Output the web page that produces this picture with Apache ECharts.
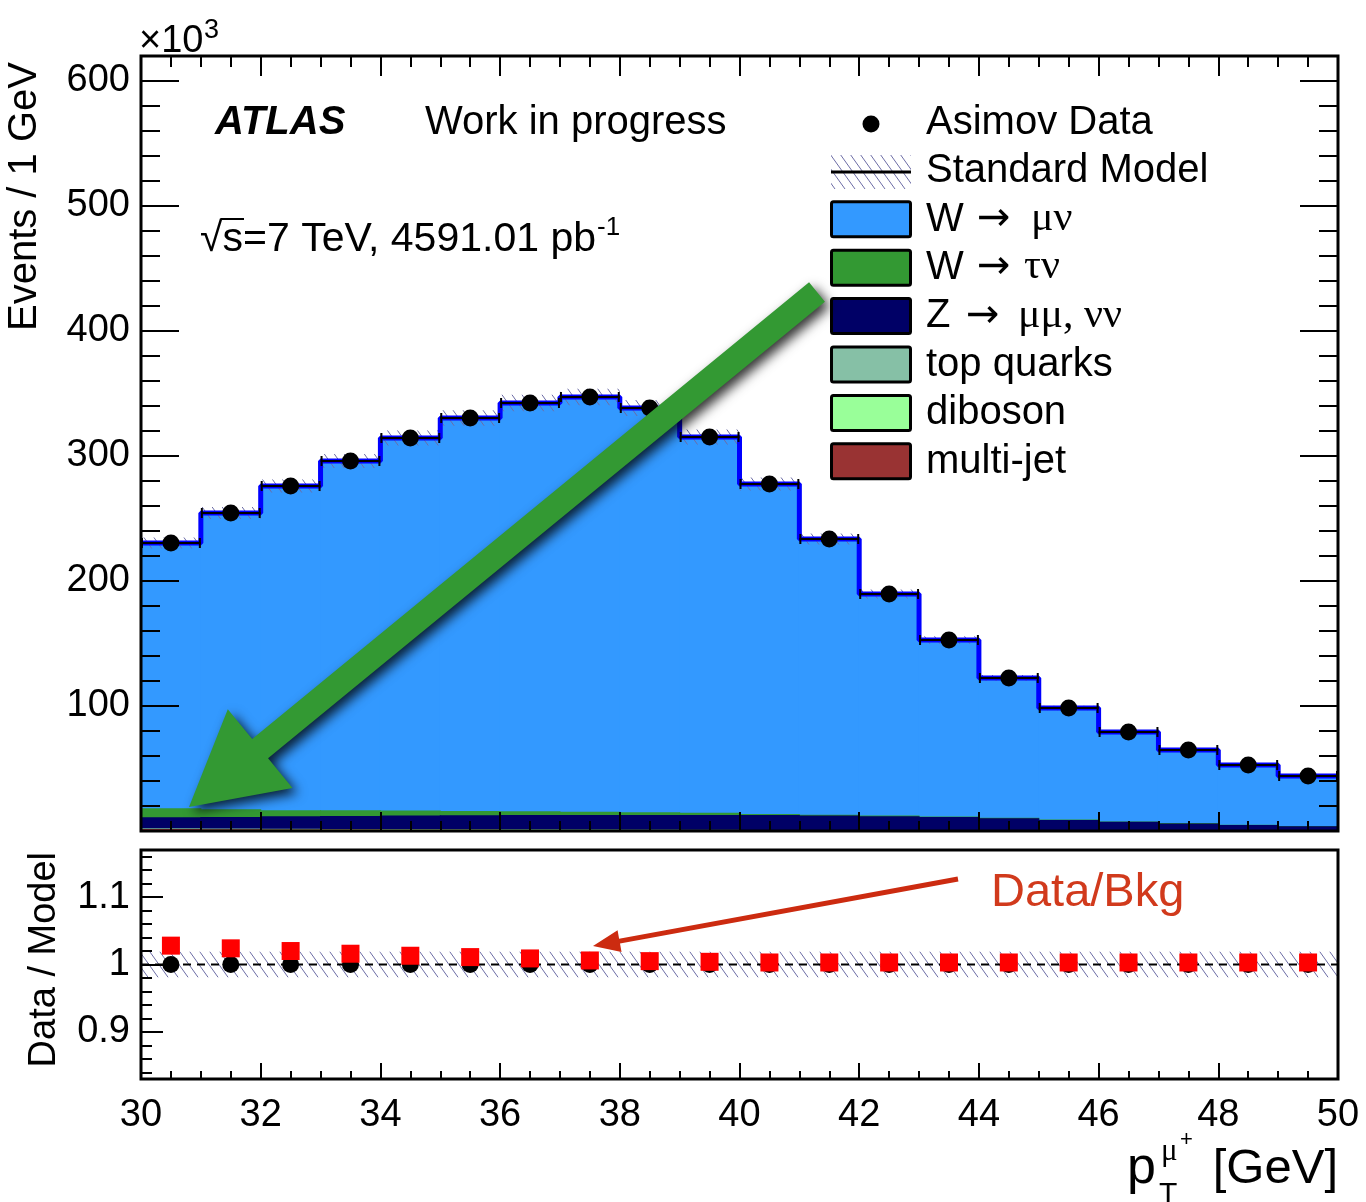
<!DOCTYPE html>
<html>
<head>
<meta charset="utf-8">
<title>pT mu+ stack</title>
<script src="https://cdn.jsdelivr.net/npm/echarts@6.0.0/dist/echarts.min.js"></script>
<style>
  html, body { margin: 0; padding: 0; background: #ffffff; }
  #chart { width: 1366px; height: 1202px; }
</style>
</head>
<body>
<div id="chart"></div>
<script>
// 1 GeV bins, event counts in units of 10^3
const binEdges = [30, 31, 32, 33, 34, 35, 36, 37, 38, 39, 40, 41, 42, 43, 44, 45, 46, 47, 48, 49, 50]
const asimovData = [230.4, 254.4, 276.0, 296.0, 314.4, 330.4, 342.4, 347.2, 338.4, 315.2, 277.6, 233.6, 189.6, 152.8, 122.4, 98.4, 79.2, 64.8, 52.8, 44.0]
const wMuNu = [212.2, 236.9, 259.4, 279.3, 298.0, 314.3, 326.6, 331.7, 323.3, 300.5, 264.0, 220.5, 177.1, 141.1, 111.8, 89.2, 71.5, 58.4, 47.7, 40.0]
const wTauNu = [7.2, 6.2, 4.8, 4.6, 4.0, 3.4, 3.0, 2.6, 2.2, 1.8, 0.8, 0.7, 0.6, 0.5, 0.4, 0.4, 0.3, 0.3, 0.2, 0.2]
const zMuMuNuNu = [8.9, 9.3, 10.0, 10.4, 10.8, 11.2, 11.4, 11.6, 11.7, 11.8, 11.9, 11.5, 11.2, 10.5, 9.6, 8.2, 6.8, 5.6, 4.5, 3.4]
const topQuarks = [0.3, 0.3, 0.3, 0.3, 0.3, 0.3, 0.3, 0.3, 0.3, 0.3, 0.2, 0.2, 0.2, 0.2, 0.2, 0.2, 0.2, 0.2, 0.1, 0.1]
const diboson = [0.2, 0.2, 0.2, 0.2, 0.2, 0.2, 0.2, 0.2, 0.2, 0.2, 0.2, 0.2, 0.1, 0.1, 0.1, 0.1, 0.1, 0.1, 0.1, 0.1]
const multiJet = [1.6, 1.5, 1.3, 1.2, 1.1, 1.0, 0.9, 0.8, 0.7, 0.6, 0.5, 0.5, 0.4, 0.4, 0.3, 0.3, 0.3, 0.2, 0.2, 0.2]
const smRelUnc = [0.019, 0.019, 0.019, 0.019, 0.019, 0.019, 0.019, 0.019, 0.019, 0.019, 0.019, 0.019, 0.019, 0.019, 0.019, 0.019, 0.019, 0.019, 0.019, 0.019]
const dataOverBkg = [1.028, 1.024, 1.020, 1.016, 1.013, 1.011, 1.009, 1.006, 1.005, 1.004, 1.003, 1.003, 1.003, 1.003, 1.003, 1.003, 1.003, 1.003, 1.003, 1.003]

const xTickLabels = [30, 32, 34, 36, 38, 40, 42, 44, 46, 48, 50]
const yTickLabels = [100, 200, 300, 400, 500, 600]
const ratioTickLabels = [0.9, 1, 1.1]

const FONT = "'Liberation Sans', Arial, Helvetica, sans-serif"
const SERIF = "'Liberation Serif', 'Times New Roman', serif"
const ARROW_FONT = "'DejaVu Sans', sans-serif"

// minor tick positions
const xMinor = []
for (let k = 0; k <= 40; k++) { const v = 30 + k * 0.5; if (v % 2 !== 0) xMinor.push(v) }
const yMinor = []
for (let v = 0; v <= 620; v += 20) { if (v % 100 !== 0) yMinor.push(v) }
const ratioMinor = []
for (let k = 42; k <= 58; k++) { if (k % 5 !== 0) ratioMinor.push(+(k * 0.02).toFixed(2)) }

// stacked layers, bottom first
const stackOrder = [
  { values: multiJet, color: '#993333' },
  { values: diboson, color: '#99ff99' },
  { values: topQuarks, color: '#86c0a6' },
  { values: zMuMuNuNu, color: '#000066' },
  { values: wTauNu, color: '#339933' },
  { values: wMuNu, color: '#3399ff' }
]
const cumulative = []
let running = asimovData.map(() => 0)
stackOrder.forEach(layer => {
  running = running.map((v, i) => v + layer.values[i])
  cumulative.push(running)
})
const smTotal = running
const binCenters = asimovData.map((d, i) => (binEdges[i] + binEdges[i + 1]) / 2)

function makeHatch() {
  const c = document.createElement('canvas')
  c.width = 10
  c.height = 14
  const g = c.getContext('2d')
  g.strokeStyle = '#6c6ca6'
  g.lineWidth = 1
  ;[-10, 0, 10].forEach(dx => {
    g.beginPath()
    g.moveTo(dx, 0)
    g.lineTo(dx + 10, 14)
    g.stroke()
  })
  return c
}
const hatchImg = makeHatch()
const hatchFill = () => ({ image: hatchImg, repeat: 'repeat' })

function renderBinFill(params, api) {
  const p0 = api.coord([api.value(0), api.value(2)])
  const p1 = api.coord([api.value(1), 0])
  return {
    type: 'rect',
    shape: { x: p0[0] - 0.5, y: p0[1], width: p1[0] - p0[0] + 1, height: p1[1] - p0[1] },
    style: { fill: api.visual('color') }
  }
}

function renderBand(params, api) {
  const p0 = api.coord([api.value(0), api.value(3)])
  const p1 = api.coord([api.value(1), api.value(2)])
  return {
    type: 'rect',
    shape: { x: p0[0], y: p0[1], width: p1[0] - p0[0], height: p1[1] - p0[1] },
    style: { fill: hatchFill() }
  }
}

function renderXErr(params, api) {
  const a = api.coord([api.value(0), api.value(2)])
  const b = api.coord([api.value(1), api.value(2)])
  const st = { stroke: '#000', lineWidth: 2 }
  return {
    type: 'group',
    children: [
      { type: 'line', shape: { x1: a[0], y1: a[1], x2: b[0], y2: b[1] }, style: st },
      { type: 'line', shape: { x1: a[0] + 1, y1: a[1] - 5, x2: a[0] + 1, y2: a[1] + 5 }, style: st },
      { type: 'line', shape: { x1: b[0] - 1, y1: b[1] - 5, x2: b[0] - 1, y2: b[1] + 5 }, style: st }
    ]
  }
}

function makeAxis(gridIndex, position, min, max, tickValues, tickLen, labelValues, labelMargin, labelPad) {
  return {
    type: 'value', gridIndex, position, min, max, z: 10,
    axisLine: { show: false, onZero: false },
    splitLine: { show: false },
    axisTick: { show: true, inside: true, length: tickLen, customValues: tickValues, lineStyle: { color: '#000', width: 2 } },
    axisLabel: labelValues
      ? { show: true, customValues: labelValues, color: '#000', fontFamily: FONT, fontSize: 38, margin: labelMargin, padding: labelPad || 0 }
      : { show: false }
  }
}

const xAxes = [
  makeAxis(0, 'bottom', 30, 50, xTickLabels, 19),
  makeAxis(0, 'bottom', 30, 50, xMinor, 10),
  makeAxis(0, 'top', 30, 50, xTickLabels, 20),
  makeAxis(0, 'top', 30, 50, xMinor, 11),
  makeAxis(1, 'bottom', 30, 50, xTickLabels, 16, xTickLabels, 18),
  makeAxis(1, 'bottom', 30, 50, xMinor, 8)
]
const yAxes = [
  makeAxis(0, 'left', 0, 620, [0].concat(yTickLabels), 38, yTickLabels, 11, [4, 0, 0, 0]),
  makeAxis(0, 'left', 0, 620, yMinor, 19),
  makeAxis(0, 'right', 0, 620, [0].concat(yTickLabels), 38),
  makeAxis(0, 'right', 0, 620, yMinor, 19),
  makeAxis(1, 'left', 0.83, 1.17, ratioTickLabels, 22, ratioTickLabels, 11, [4, 0, 0, 0]),
  makeAxis(1, 'left', 0.83, 1.17, ratioMinor, 11)
]

const layerSeries = stackOrder.map((layer, k) => ({
  type: 'custom',
  xAxisIndex: 0, yAxisIndex: 0,
  renderItem: renderBinFill,
  itemStyle: { color: layer.color },
  data: cumulative[k].map((top, i) => [binEdges[i], binEdges[i + 1], top]),
  z: 2
})).reverse()

const series = layerSeries.concat([
  {
    type: 'custom', xAxisIndex: 0, yAxisIndex: 0, renderItem: renderBand, z: 3,
    data: smTotal.map((t, i) => [binEdges[i], binEdges[i + 1], t * (1 - smRelUnc[i]), t * (1 + smRelUnc[i])])
  },
  {
    type: 'line', xAxisIndex: 0, yAxisIndex: 0, step: 'end', symbol: 'none', z: 4,
    lineStyle: { color: '#0000ff', width: 5 },
    data: binEdges.map((e, i) => [e, smTotal[Math.min(i, smTotal.length - 1)]])
  },
  {
    type: 'custom', xAxisIndex: 0, yAxisIndex: 0, renderItem: renderXErr, z: 5,
    data: asimovData.map((d, i) => [binEdges[i], binEdges[i + 1], d])
  },
  {
    type: 'scatter', xAxisIndex: 0, yAxisIndex: 0, symbol: 'circle', symbolSize: 17, z: 6,
    itemStyle: { color: '#000', opacity: 1 },
    data: asimovData.map((d, i) => [binCenters[i], d])
  },
  // ratio panel
  {
    type: 'custom', xAxisIndex: 4, yAxisIndex: 4, renderItem: renderBand, z: 3,
    data: smRelUnc.map((u, i) => [binEdges[i], binEdges[i + 1], 1 - u, 1 + u])
  },
  {
    type: 'line', xAxisIndex: 4, yAxisIndex: 4, symbol: 'none', z: 4,
    lineStyle: { color: '#000', width: 2, type: [8, 6] },
    data: [[30, 1], [50, 1]]
  },
  {
    type: 'scatter', xAxisIndex: 4, yAxisIndex: 4, symbol: 'circle', symbolSize: 17, z: 5,
    itemStyle: { color: '#000', opacity: 1 },
    data: asimovData.map((d, i) => [binCenters[i], d / smTotal[i]])
  },
  {
    type: 'scatter', xAxisIndex: 4, yAxisIndex: 4, symbol: 'rect', symbolSize: 18, z: 6,
    itemStyle: { color: '#ff0000', opacity: 1 },
    data: dataOverBkg.map((r, i) => [binCenters[i], r])
  }
])

// ---- annotations ----
const measureCtx = document.createElement('canvas').getContext('2d')
function textWidth(str, font) { measureCtx.font = font; return measureCtx.measureText(str).width }

const BASE_SHIFT = 0.28
function txt(str, x, baseline, size, opts) {
  opts = opts || {}
  const family = opts.family || FONT
  const font = (opts.style || '') + ' ' + (opts.weight || 'normal') + ' ' + size + 'px ' + family
  const align = opts.align || 'left'
  return {
    type: 'text', z: 100,
    x: x, y: baseline - BASE_SHIFT * size,
    rotation: opts.rotation || 0,
    style: {
      text: str, font: font, fill: opts.color || '#000',
      align: align, textAlign: align, verticalAlign: 'middle', textVerticalAlign: 'middle'
    }
  }
}

function rotTxt(str, baselineX, endY, size) {
  const el = txt(str, 0, 0, size, { align: 'right', rotation: Math.PI / 2 })
  el.x = baselineX - BASE_SHIFT * size
  el.y = endY
  return el
}

function arrowPoints(tip, tail, shaftHalf, headLen, headHalf) {
  const L = Math.hypot(tail[0] - tip[0], tail[1] - tip[1])
  const d = [(tail[0] - tip[0]) / L, (tail[1] - tip[1]) / L]
  const n = [-d[1], d[0]]
  const P = (along, side) => [tip[0] + d[0] * along + n[0] * side, tip[1] + d[1] * along + n[1] * side]
  return [P(0, 0), P(headLen, headHalf), P(headLen, shaftHalf), P(L, shaftHalf), P(L, -shaftHalf), P(headLen, -shaftHalf), P(headLen, -headHalf)]
}

const sqrtSize = 41
const sqrtFont = sqrtSize + 'px ' + FONT
const sqrtMain = '√s=7 TeV, 4591.01 pb'
const sqrtW = textWidth(sqrtMain, sqrtFont)
const radW = textWidth('√', sqrtFont)
const radSW = textWidth('√s', sqrtFont)

const legendX = 926
const legendBase = [134, 182.4, 230.8, 279.2, 327.6, 376, 424.4, 472.8]
const legendBoxColors = [null, null, '#3399ff', '#339933', '#000066', '#86c0a6', '#99ff99', '#993333']

const graphics = []
// axis decorations
graphics.push(txt('×10', 139, 52, 38))
graphics.push(txt('3', 204, 38, 27))
graphics.push(rotTxt('Events / 1 GeV', 36, 62, 40))
graphics.push(rotTxt('Data / Model', 55, 852, 38))
graphics.push(txt('p', 1127, 1183, 52))
graphics.push(txt('T', 1159, 1203, 30))
graphics.push(txt('μ', 1161, 1161, 31, { family: SERIF }))
graphics.push(txt('+', 1180, 1146, 22))
graphics.push(txt('[GeV]', 1338, 1183, 49, { align: 'right' }))
// labels in the plot
graphics.push(txt('ATLAS', 215, 134, 40, { weight: 'bold', style: 'italic' }))
graphics.push(txt('Work in progress', 425, 134, 40))
graphics.push(txt(sqrtMain, 200, 251, sqrtSize))
graphics.push({ type: 'line', z: 100, shape: { x1: 200 + radW - 2, y1: 219, x2: 200 + radSW + 1, y2: 219 }, style: { stroke: '#000', lineWidth: 2 } })
graphics.push(txt('-1', 200 + sqrtW + 1, 235, 26))

// legend
graphics.push({ type: 'circle', z: 100, shape: { cx: 871, cy: 124, r: 8.5 }, style: { fill: '#000' } })
graphics.push({ type: 'rect', z: 100, shape: { x: 831, y: 155, width: 80, height: 34 }, style: { fill: hatchFill() } })
graphics.push({ type: 'line', z: 101, shape: { x1: 831, y1: 172, x2: 911, y2: 172 }, style: { stroke: '#000', lineWidth: 3 } })
legendBoxColors.forEach((c, i) => {
  if (!c) return
  const top = legendBase[i] - 29
  graphics.push({ type: 'rect', z: 100, shape: { x: 831.5, y: top, width: 79, height: 35, r: 2 }, style: { fill: c, stroke: '#000', lineWidth: 3 } })
})
graphics.push(txt('Asimov Data', legendX, legendBase[0], 40))
graphics.push(txt('Standard Model', legendX, legendBase[1], 40))
graphics.push(txt('W', legendX, legendBase[2], 40))
graphics.push(txt('→', 977, legendBase[2], 40, { family: ARROW_FONT }))
graphics.push(txt('μν', 1031, legendBase[2], 42, { family: SERIF }))
graphics.push(txt('W', legendX, legendBase[3], 40))
graphics.push(txt('→', 977, legendBase[3], 40, { family: ARROW_FONT }))
graphics.push(txt('τν', 1024, legendBase[3], 42, { family: SERIF }))
graphics.push(txt('Z', legendX, legendBase[4], 40))
graphics.push(txt('→', 966, legendBase[4], 40, { family: ARROW_FONT }))
graphics.push(txt('μμ, νν', 1018, legendBase[4], 42, { family: SERIF }))
graphics.push(txt('top quarks', legendX, legendBase[5], 40))
graphics.push(txt('diboson', legendX, legendBase[6], 40))
graphics.push(txt('multi-jet', legendX, legendBase[7], 40))

// big green arrow
graphics.push({
  type: 'polygon', z: 110,
  shape: { points: arrowPoints([189, 807], [817, 292], 12.5, 92, 51) },
  style: { fill: '#339933', shadowBlur: 12, shadowOffsetX: 5, shadowOffsetY: 5, shadowColor: 'rgba(0,0,0,0.8)' }
})
// red arrow + label in ratio panel
graphics.push({
  type: 'polygon', z: 110,
  shape: { points: arrowPoints([593, 946], [958, 879], 2.5, 27, 11) },
  style: { fill: '#cc2b10' }
})
graphics.push(txt('Data/Bkg', 991, 906, 47, { color: '#d13a1c' }))

const chart = echarts.init(document.getElementById('chart'))
chart.setOption({
  animation: false,
  backgroundColor: '#fff',
  grid: [
    { left: 141, top: 56, width: 1197, height: 775, show: true, borderColor: '#000', borderWidth: 3, backgroundColor: 'transparent', z: 10, outerBoundsMode: 'none' },
    { left: 141, top: 850, width: 1197, height: 229, show: true, borderColor: '#000', borderWidth: 3, backgroundColor: 'transparent', z: 10, outerBoundsMode: 'none' }
  ],
  xAxis: xAxes,
  yAxis: yAxes,
  series: series,
  graphic: { elements: graphics }
})
</script>
</body>
</html>
